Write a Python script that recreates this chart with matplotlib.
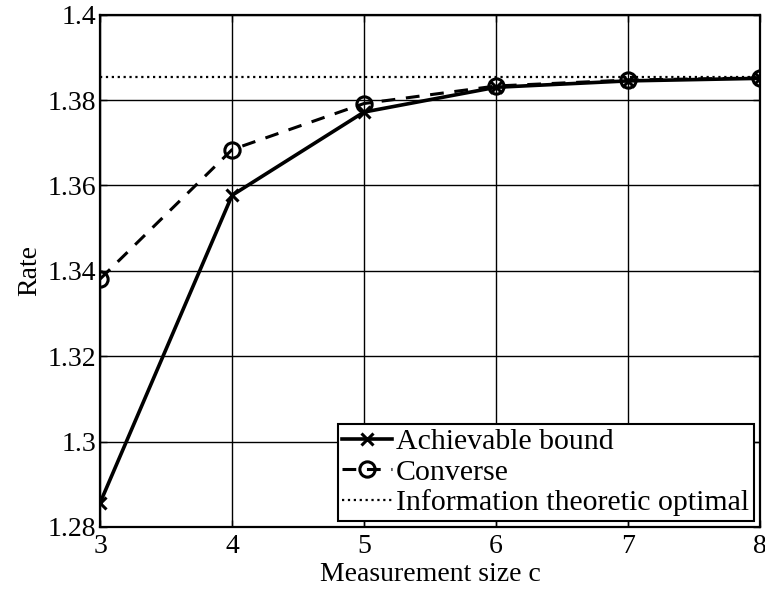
import matplotlib
matplotlib.use("Agg")
import matplotlib.pyplot as plt
from matplotlib.ticker import FormatStrFormatter

c = [3, 4, 5, 6, 7, 8]
achievable = [1.2857, 1.3577, 1.3772, 1.3830, 1.3845, 1.3851]
converse = [1.3381, 1.3684, 1.3792, 1.3833, 1.3847, 1.3852]
optimal = 1.3853

yticks = [1.28, 1.30, 1.32, 1.34, 1.36, 1.38, 1.40]

plt.rcParams['font.family'] = ['Liberation Serif', 'DejaVu Serif']
plt.rcParams['font.size'] = 20

fig = plt.figure(figsize=(7.65, 5.9), dpi=100)
ax = fig.add_axes([0.131, 0.107, 0.862, 0.868])

ax.plot(c, achievable, '-', color='black', linewidth=2.6, marker='x',
        markersize=8, markeredgewidth=2.2, label='Achievable bound')
ax.plot(c, converse, '--', color='black', linewidth=2.2, marker='o',
        markersize=11, markerfacecolor='none', markeredgewidth=2.2,
        dashes=(4.5, 3.5), label='Converse')
ax.axhline(optimal, color='black', linestyle=':', linewidth=1.6,
           label='Information theoretic optimal')

ax.set_xlim(3, 8)
ax.set_ylim(1.28, 1.40)
ax.set_xticks(c)
ax.set_yticks(yticks)
ax.yaxis.set_major_formatter(FormatStrFormatter('%g'))
ax.grid(True, color='black', linewidth=1.0, linestyle='-')
ax.tick_params(direction='in', length=5, width=1, top=True, right=True)
ax.tick_params(axis='x', pad=5)
ax.tick_params(axis='y', pad=3)
for s in ax.spines.values():
    s.set_linewidth(1.6)

ax.set_xlabel('Measurement size c', labelpad=2)
ax.set_ylabel('Rate', labelpad=4)

leg = ax.legend(loc='lower right', fancybox=False, edgecolor='black',
                framealpha=1, fontsize=21.5, handlelength=1.65,
                handletextpad=0.15, borderpad=0.15, labelspacing=0.12,
                borderaxespad=0.2)
leg.get_frame().set_linewidth(1.5)

fig.savefig('out.png', dpi=100)
